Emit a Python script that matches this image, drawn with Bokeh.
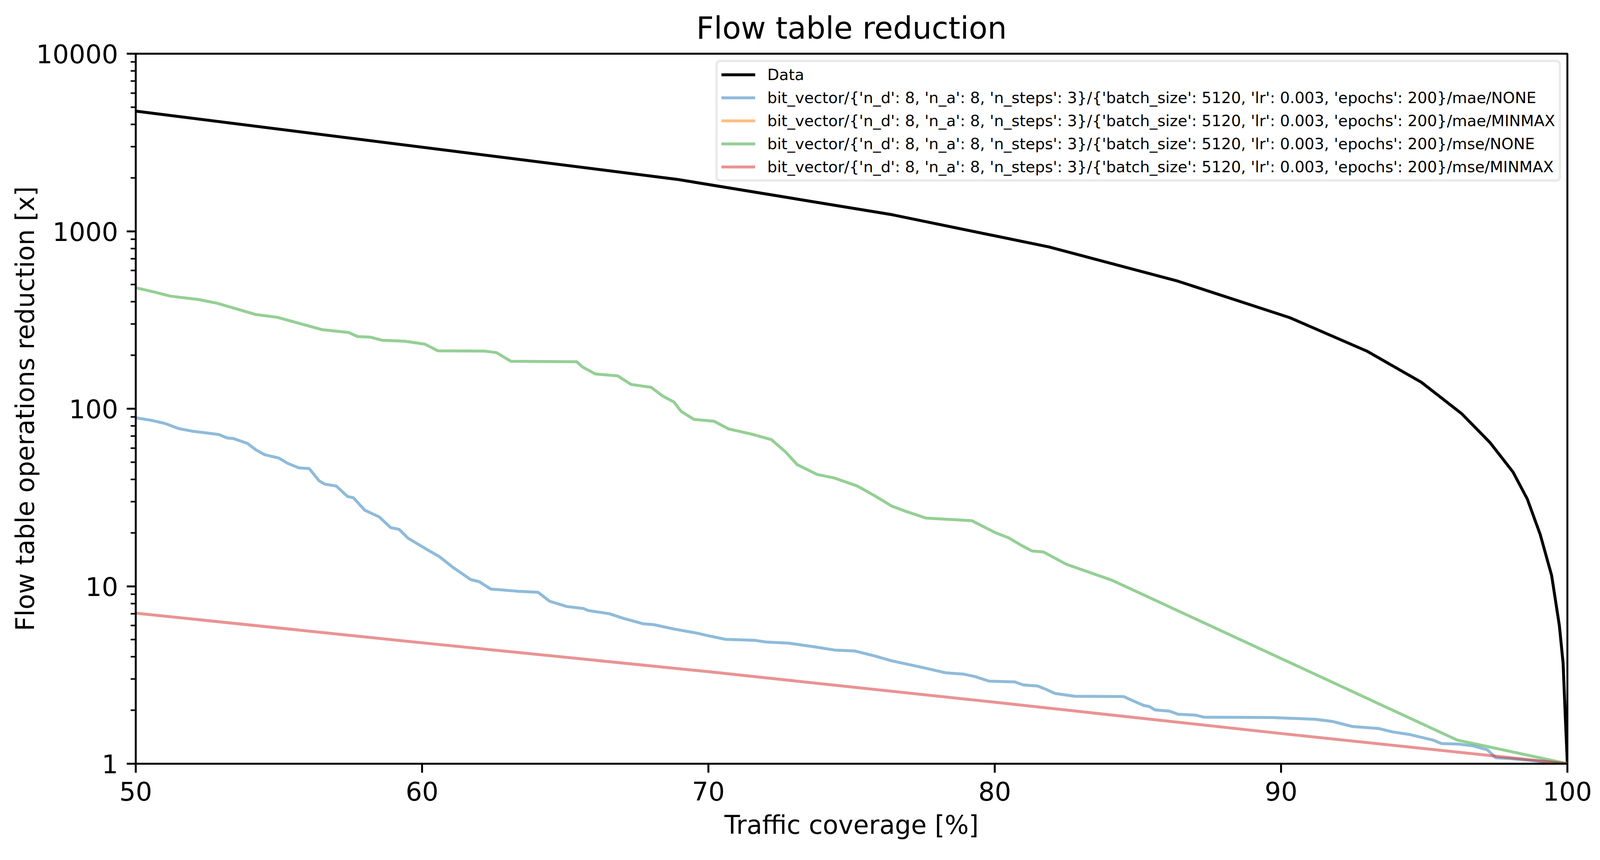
from bokeh.plotting import figure
from bokeh.models import Range1d, FixedTicker, NumeralTickFormatter, Legend, LegendItem
from bokeh.embed import file_html
from bokeh.resources import INLINE

# ---- data ----
data_x = [50, 68.9, 76.4, 81.9, 86.4, 90.3, 93.0, 94.9, 96.3, 97.3, 98.1, 98.6,
          99.05, 99.45, 99.72, 99.85, 99.93, 100]
data_y = [4750, 1960, 1240, 815, 523, 326, 211, 141, 94, 64.4, 44, 31,
          19.6, 11.5, 6.0, 3.7, 1.8, 1]

mae_none_x = [50, 50.5, 51.0, 51.5, 52.0, 52.9, 53.2, 53.4, 53.9, 54.2, 54.5, 55.0,
              55.3, 55.7, 56.06, 56.4, 56.6, 57.0, 57.4, 57.6, 58.0, 58.5, 58.9, 59.2,
              59.5, 59.9, 60.2, 60.6, 61.1, 61.7, 62.0, 62.4, 63.3, 64.05, 64.45, 65.05,
              65.65, 65.8, 66.54, 67.04, 67.73, 68.1, 68.8, 69.6, 70.0, 70.6, 71.6, 72.0,
              72.8, 73.8, 74.4, 75.1, 75.8, 76.4, 76.9, 77.6, 78.3, 78.9, 79.3, 79.8,
              80.7, 81.0, 81.5, 81.8, 82.1, 82.8, 84.5, 85.0, 85.2, 85.4, 85.6, 86.1,
              86.4, 87.0, 87.3, 89.7, 91.2, 91.8, 92.5, 93.4, 93.9, 94.5, 95.3, 95.6,
              96.2, 96.7, 97.2, 97.5, 98.0, 100]
mae_none_y = [88.9, 86.3, 82.8, 77.3, 74.6, 71.6, 68.4, 68.0, 63.8, 58.6, 55.1, 52.7,
              49.3, 46.4, 46.0, 39.3, 37.6, 36.7, 32.0, 31.5, 26.8, 24.6, 21.4, 20.9,
              18.7, 17.1, 16.0, 14.7, 12.7, 10.9, 10.6, 9.64, 9.38, 9.25, 8.24, 7.69,
              7.48, 7.3, 7.0, 6.59, 6.14, 6.07, 5.74, 5.44, 5.26, 5.02, 4.96, 4.85,
              4.78, 4.53, 4.37, 4.32, 4.05, 3.8, 3.65, 3.45, 3.25, 3.2, 3.1, 2.92,
              2.89, 2.78, 2.74, 2.62, 2.49, 2.4, 2.39, 2.2, 2.13, 2.1, 2.01, 1.98,
              1.9, 1.88, 1.83, 1.82, 1.78, 1.73, 1.62, 1.58, 1.51, 1.46, 1.36, 1.30,
              1.29, 1.26, 1.20, 1.08, 1.07, 1.0]

# mae/MINMAX: not visible in the reference plot (only its legend entry shows)
mae_minmax_x = [50, 60, 70, 80, 90, 100]
mae_minmax_y = [7.05, 4.8, 3.3, 2.22, 1.48, 1.0]

mse_none_x = [50.0, 50.66, 51.2, 52.2, 52.84, 54.17, 54.95, 56.5, 57.43, 57.75, 58.2,
              58.6, 59.4, 60.1, 60.55, 62.2, 62.6, 63.1, 65.4, 65.6, 66.05, 66.84, 67.3,
              68.0, 68.4, 68.8, 69.05, 69.5, 70.2, 70.7, 71.5, 72.2, 72.7, 73.1, 73.8,
              74.4, 75.2, 75.8, 76.4, 76.9, 77.6, 79.2, 80.0, 80.5, 80.9, 81.3, 81.7,
              82.5, 84.1, 96.15, 100]
mse_none_y = [480, 454, 431, 412, 393, 340, 327, 279, 269, 255, 253,
              243, 240, 231, 212, 211, 207, 185, 184, 172, 157, 153, 137,
              132, 118, 109, 96.5, 87, 85, 77, 72, 67, 57, 48.4, 42.6,
              40.7, 36.7, 32.4, 28.3, 26.4, 24.2, 23.4, 20.1, 18.7, 17.1, 15.8, 15.6,
              13.3, 10.8, 1.36, 1.0]

mse_minmax_x = [50, 60, 70, 80, 90, 100]
mse_minmax_y = [7.05, 4.8, 3.3, 2.22, 1.48, 1.0]

x_ticks = [50, 60, 70, 80, 90, 100]
y_ticks = [1, 10, 100, 1000, 10000]

prefix = "bit_vector/{'n_d': 8, 'n_a': 8, 'n_steps': 3}/{'batch_size': 5120, 'lr': 0.003, 'epochs': 200}/"
labels = ["Data", prefix + "mae/NONE", prefix + "mae/MINMAX", prefix + "mse/NONE", prefix + "mse/MINMAX"]

FONT = "DejaVu Sans"

p = figure(width=4104, height=2186, output_backend="svg", toolbar_location=None,
           y_axis_type="log", x_range=Range1d(50, 100), y_range=Range1d(1, 10000),
           min_border_left=347, min_border_right=92, min_border_top=137, min_border_bottom=231,
           title="Flow table reduction")
p.background_fill_color = "white"
p.border_fill_color = "white"
p.outline_line_color = "black"
p.outline_line_width = 5
p.xgrid.visible = False
p.ygrid.visible = False

p.title.text_font = FONT
p.title.text_font_size = "78px"
p.title.text_font_style = "normal"
p.title.text_color = "black"
p.title.align = "center"
p.title.standoff = 42

minor = [m * 10 ** k for k in range(4) for m in range(2, 10)]
p.yaxis.ticker = FixedTicker(ticks=y_ticks, minor_ticks=minor)
p.xaxis.ticker = FixedTicker(ticks=x_ticks, minor_ticks=[])
p.yaxis.formatter = NumeralTickFormatter(format="0")
p.xaxis.formatter = NumeralTickFormatter(format="0")

for ax in (p.xaxis, p.yaxis):
    ax.axis_line_width = 5
    ax.axis_line_color = "black"
    ax.major_tick_line_width = 5
    ax.minor_tick_line_width = 4
    ax.major_tick_out = 23
    ax.major_tick_in = 0
    ax.minor_tick_out = 13
    ax.minor_tick_in = 0
    ax.major_label_text_font = FONT
    ax.major_label_text_font_size = "66px"
    ax.major_label_text_color = "black"
    ax.axis_label_text_font = FONT
    ax.axis_label_text_font_size = "65px"
    ax.axis_label_text_font_style = "normal"
    ax.axis_label_text_color = "black"
    ax.major_label_standoff = 22

p.xaxis.axis_label = "Traffic coverage [%]"
p.yaxis.axis_label = "Flow table operations reduction [x]"
p.xaxis.axis_label_standoff = 22
p.yaxis.axis_label_standoff = -12

LW = 7.5
r0 = p.line(data_x, data_y, line_color="black", line_width=LW, line_join="round")
r1 = p.line(mae_none_x, mae_none_y, line_color="#1f77b4", line_alpha=0.5, line_width=LW, line_join="round")
r2 = p.line(mae_minmax_x, mae_minmax_y, line_color="#ff7f0e", line_alpha=0.5, line_width=LW, line_join="round")
r2.visible = False
r3 = p.line(mse_none_x, mse_none_y, line_color="#2ca02c", line_alpha=0.5, line_width=LW, line_join="round")
r4 = p.line(mse_minmax_x, mse_minmax_y, line_color="#d62728", line_alpha=0.5, line_width=LW, line_join="round")

legend = Legend(items=[LegendItem(label=l, renderers=[r]) for l, r in zip(labels, [r0, r1, r2, r3, r4])],
                location="top_right")
legend.margin = 16
legend.padding = 9
legend.spacing = 13
legend.label_text_font = FONT
legend.label_text_font_size = "39.5px"
legend.label_text_color = "black"
legend.label_height = 36
legend.glyph_height = 36
legend.glyph_width = 87
legend.label_standoff = 31
legend.border_line_color = "#d6d6d6"
legend.border_line_width = 6
legend.background_fill_color = "white"
legend.background_fill_alpha = 0.8
legend.inactive_fill_alpha = 0.0
try:
    legend.border_radius = 12
except Exception:
    pass
p.add_layout(legend)

open("out.html", "w").write(file_html(p, INLINE))
